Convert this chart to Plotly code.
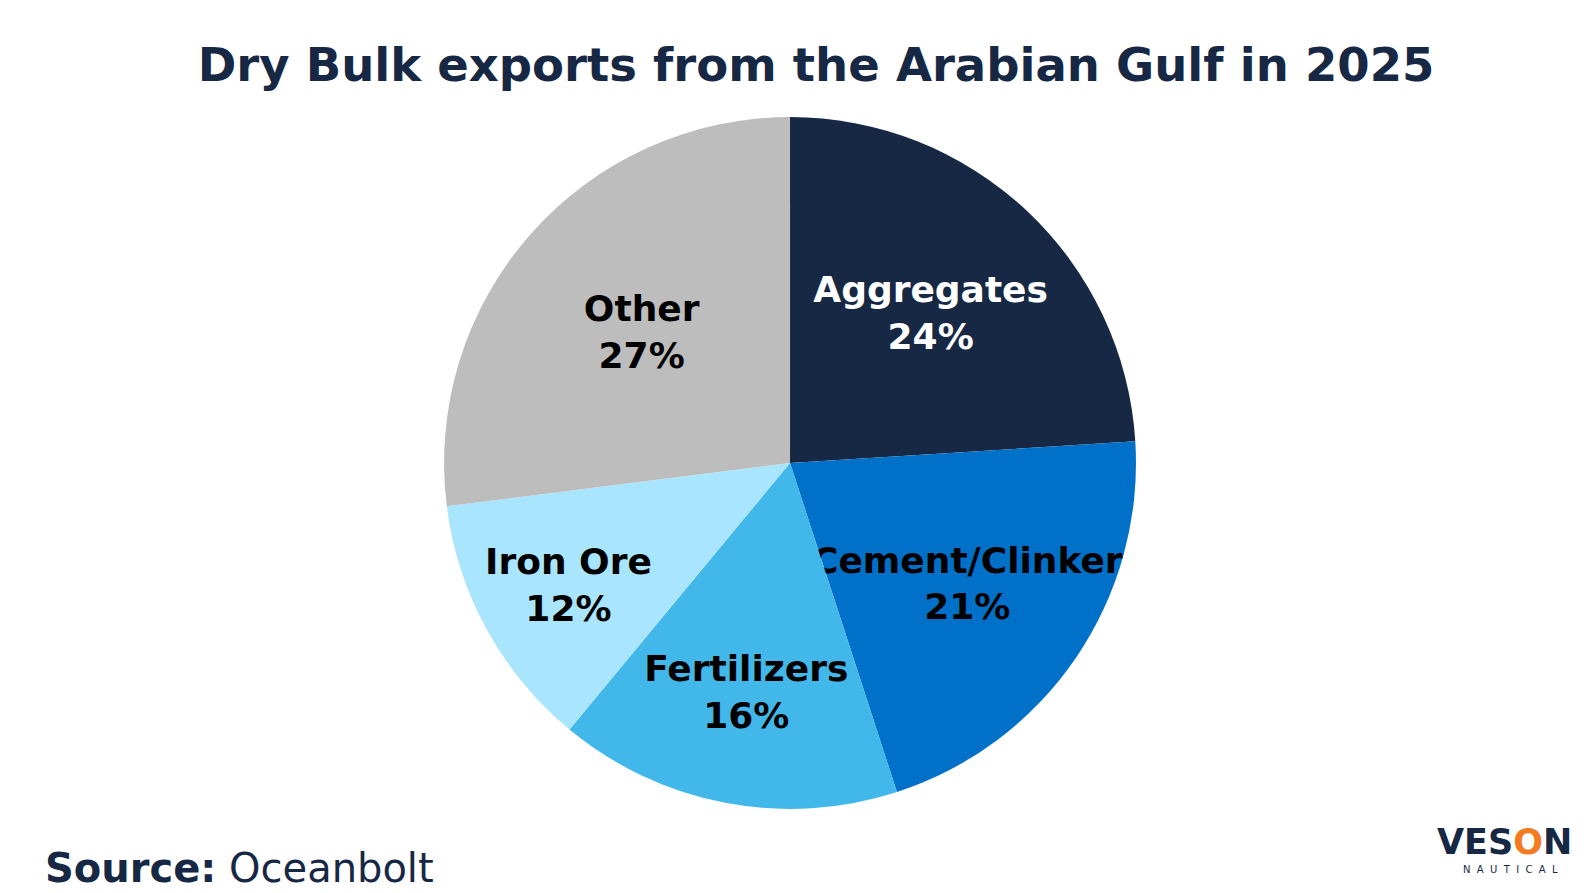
import plotly.graph_objects as go

categories = ["Aggregates", "Cement/Clinker", "Fertilizers", "Iron Ore", "Other"]
shares = [24, 21, 16, 12, 27]
colors = ["#172844", "#0070C8", "#42B8EA", "#A9E5FC", "#BDBDBD"]
text_colors = ["#FFFFFF", "#000000", "#000000", "#000000", "#000000"]

NAVY = "#172844"
FONT = "DejaVu Sans"

fig = go.Figure(go.Pie(
    labels=categories,
    values=shares,
    sort=False,
    direction="clockwise",
    rotation=0,
    marker=dict(colors=colors, line=dict(width=0)),
    texttemplate="<b>%{label}</b><br><b>%{percent:.0%}</b>",
    textposition="inside",
    insidetextorientation="horizontal",
    insidetextfont=dict(family=FONT, size=36, color=text_colors),
    hoverinfo="label+percent",
    domain=dict(x=[0.2734, 0.7072], y=[0.103, 0.878]),
    showlegend=False,
))

fig.update_layout(
    width=1595, height=893,
    margin=dict(l=0, r=0, t=0, b=0),
    paper_bgcolor="white",
    plot_bgcolor="white",
    uniformtext=dict(minsize=36, mode="show"),
    title=dict(
        text="<b>Dry Bulk exports from the Arabian Gulf in 2025</b>",
        x=0.5066, xanchor="center", y=0.936, yanchor="middle",
        font=dict(family=FONT, size=46.5, color=NAVY),
    ),
    annotations=[
        dict(text="<b>Source:</b> Oceanbolt", x=0.0218, y=0.037,
             xref="paper", yref="paper", xanchor="left", yanchor="middle",
             showarrow=False, font=dict(family=FONT, size=40, color=NAVY)),
        dict(text="<b>VES<span style='color:#F47B20'>O</span>N</b>", x=0.9818, y=0.066,
             xref="paper", yref="paper", xanchor="right", yanchor="middle",
             showarrow=False, font=dict(family=FONT, size=35, color=NAVY)),
        dict(text="N  A  U  T  I  C  A  L", x=0.9417, y=0.0358,
             xref="paper", yref="paper", xanchor="center", yanchor="middle",
             showarrow=False, font=dict(family=FONT, size=10, color=NAVY)),
    ],
)

fig.write_html("out.html")
